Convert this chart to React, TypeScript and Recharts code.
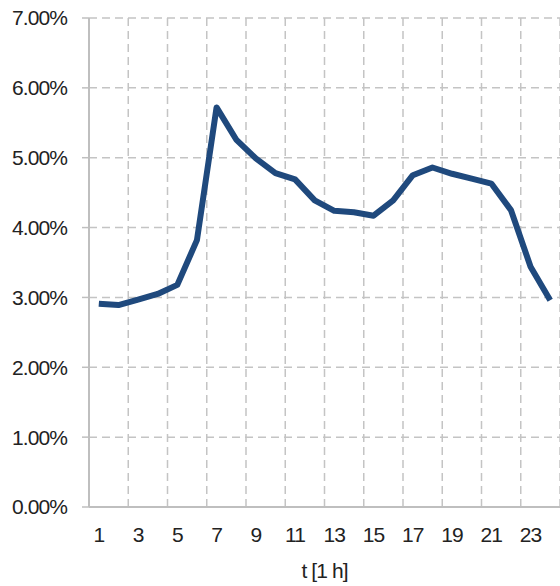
import { CartesianGrid, Line, LineChart, XAxis, YAxis } from "recharts";

const hours = [1, 2, 3, 4, 5, 6, 7, 8, 9, 10, 11, 12, 13, 14, 15, 16, 17, 18, 19, 20, 21, 22, 23, 24];
const share = [
  2.91, 2.89, 2.97, 3.05, 3.18, 3.82, 5.72, 5.26, 4.99, 4.78, 4.69, 4.39,
  4.24, 4.22, 4.17, 4.39, 4.75, 4.86, 4.77, 4.7, 4.63, 4.25, 3.44, 2.96,
];
const xTicks = [1, 3, 5, 7, 9, 11, 13, 15, 17, 19, 21, 23];
const yTicks = [0, 1, 2, 3, 4, 5, 6, 7];
const gridX = [2.5, 4.5, 6.5, 8.5, 10.5, 12.5, 14.5, 16.5, 18.5, 20.5, 22.5, 24.5];
const xDomain: [number, number] = [0.5, 24.5];

const data = hours.map((t, i) => ({ t, value: share[i] }));

const font = "'Liberation Sans', Arial, sans-serif";
const tickStyle = { fill: "#222", fontSize: 21, fontFamily: font, letterSpacing: -0.9 };

export default function App() {
  const verticalGen = ({ xAxis, offset }: any) => {
    if (xAxis && typeof xAxis.scale === "function") return gridX.map((v) => xAxis.scale(v));
    return gridX.map((v) => offset.left + ((v - xDomain[0]) / (xDomain[1] - xDomain[0])) * offset.width);
  };

  return (
    <div style={{ position: "absolute", top: 0, left: 0, width: 560, height: 586 }}>
      <LineChart width={560} height={586} data={data} margin={{ top: 18, right: 0, bottom: 0, left: 0 }}>
        <CartesianGrid stroke="#c4c4c4" strokeWidth={1.5} strokeDasharray="8 5" verticalCoordinatesGenerator={verticalGen} />
        <XAxis
          dataKey="t"
          type="number"
          domain={xDomain}
          ticks={xTicks}
          interval={0}
          height={79}
          axisLine={{ stroke: "#bfbfbf", strokeWidth: 2 }}
          tickLine={false}
          tickSize={0}
          tickMargin={20}
          tick={tickStyle}
          label={{ value: "t [1 h]", position: "insideBottom", offset: 8, fill: "#222", fontSize: 21, fontFamily: font, letterSpacing: -0.9 }}
        />
        <YAxis
          domain={[0, 7]}
          ticks={yTicks}
          interval={0}
          width={89}
          axisLine={{ stroke: "#bfbfbf", strokeWidth: 2 }}
          tickLine={{ stroke: "#bfbfbf", strokeWidth: 1.5 }}
          tickSize={7}
          tickMargin={15}
          tick={tickStyle}
          tickFormatter={(v: number) => `${v.toFixed(2)}%`}
        />
        <Line
          type="linear"
          dataKey="value"
          stroke="#1f497d"
          strokeWidth={6}
          strokeLinejoin="round"
          dot={false}
          isAnimationActive={false}
        />
      </LineChart>
    </div>
  );
}
